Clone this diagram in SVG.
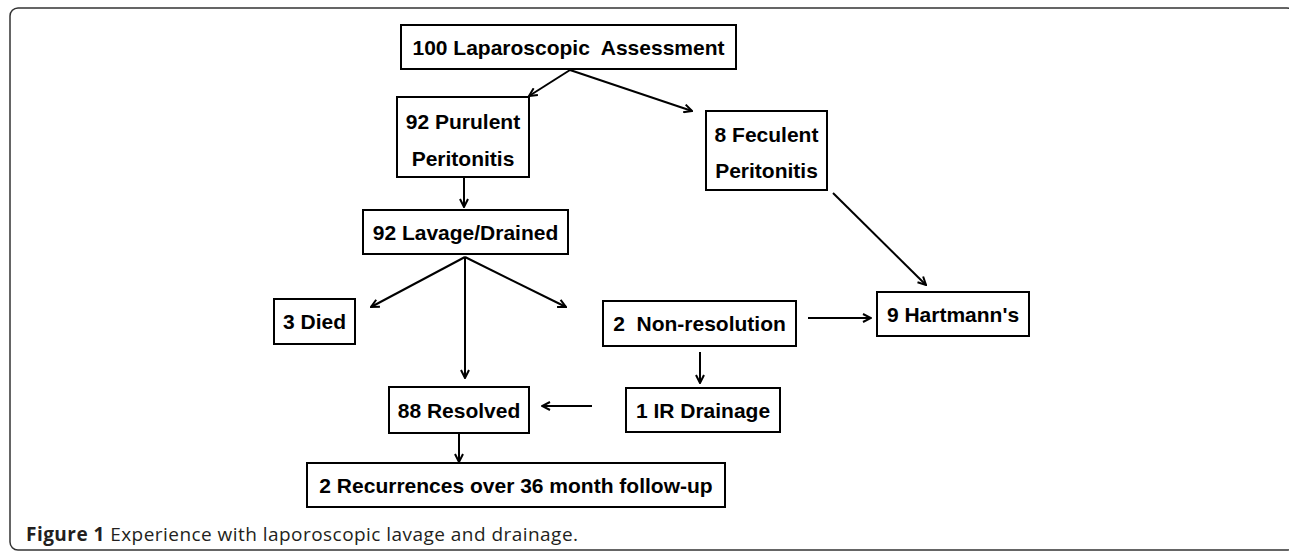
<svg xmlns="http://www.w3.org/2000/svg" width="1289" height="552" viewBox="0 0 1289 552">
<style>
.box{fill:#fff;stroke:#000;stroke-width:2}
.lbl{font-family:"Liberation Sans",Arial,sans-serif;font-weight:bold;font-size:21px;fill:#000;text-anchor:middle}
.con{stroke:#000;stroke-width:2;fill:none;marker-end:url(#ah)}
.cap{font-family:"Open Sans","Noto Sans",sans-serif;font-size:19px;fill:#231f20}
</style>
<defs>
<marker id="ah" viewBox="0 0 10 10" refX="9" refY="5" markerWidth="10" markerHeight="10" markerUnits="userSpaceOnUse" orient="auto">
<path d="M1,1 L9,5 L1,9" fill="none" stroke="#000" stroke-width="2"/>
</marker>
</defs>
<rect width="1289" height="552" fill="#fff"/>
<rect id="frame" x="10" y="8" width="1285" height="542" rx="8" ry="8" fill="none" stroke="#333" stroke-width="1.5"/>
<g id="connectors">
<line class="con" x1="570" y1="70" x2="529" y2="96"/>
<line class="con" x1="570" y1="70" x2="692" y2="111"/>
<line class="con" x1="464" y1="177" x2="464" y2="207"/>
<line class="con" x1="465" y1="257" x2="371" y2="307"/>
<line class="con" x1="465" y1="257" x2="465" y2="378"/>
<line class="con" x1="465" y1="257" x2="566" y2="307"/>
<line class="con" x1="700" y1="352" x2="700" y2="383"/>
<line class="con" x1="592" y1="406" x2="542" y2="406"/>
<line class="con" x1="459" y1="433" x2="459" y2="462"/>
<line class="con" x1="833" y1="193" x2="926" y2="285"/>
<line class="con" x1="808" y1="318" x2="871" y2="318"/>
</g>
<g id="n-assess"><rect class="box" x="401" y="25" width="335" height="44"/><text class="lbl" x="568.5" y="54.5" xml:space="preserve">100 Laparoscopic  Assessment</text></g>
<g id="n-purulent"><rect class="box" x="397" y="97" width="132" height="80"/><text class="lbl" x="463" y="129">92 Purulent</text><text class="lbl" x="463" y="166">Peritonitis</text></g>
<g id="n-feculent"><rect class="box" x="706" y="111" width="121" height="79"/><text class="lbl" x="766.5" y="142">8 Feculent</text><text class="lbl" x="766.5" y="178">Peritonitis</text></g>
<g id="n-lavage"><rect class="box" x="363" y="210" width="205" height="44"/><text class="lbl" x="465.5" y="239.5">92 Lavage/Drained</text></g>
<g id="n-died"><rect class="box" x="274" y="299" width="81" height="45"/><text class="lbl" x="314.5" y="329">3 Died</text></g>
<g id="n-nonres"><rect class="box" x="603" y="301" width="193" height="45"/><text class="lbl" x="699.5" y="331" xml:space="preserve">2  Non-resolution</text></g>
<g id="n-hartmann"><rect class="box" x="877" y="292" width="152" height="44"/><text class="lbl" x="953" y="321.5">9 Hartmann's</text></g>
<g id="n-resolved"><rect class="box" x="389" y="387" width="140" height="46"/><text class="lbl" x="459" y="417.5">88 Resolved</text></g>
<g id="n-ir"><rect class="box" x="626" y="388" width="154" height="44"/><text class="lbl" x="703" y="417.5">1 IR Drainage</text></g>
<g id="n-recur"><rect class="box" x="307" y="463" width="418" height="44"/><text class="lbl" x="516" y="492.5">2 Recurrences over 36 month follow-up</text></g>
<text class="cap" x="26" y="541" textLength="552" lengthAdjust="spacing"><tspan font-weight="bold">Figure 1</tspan> Experience with laporoscopic lavage and drainage.</text>
</svg>
